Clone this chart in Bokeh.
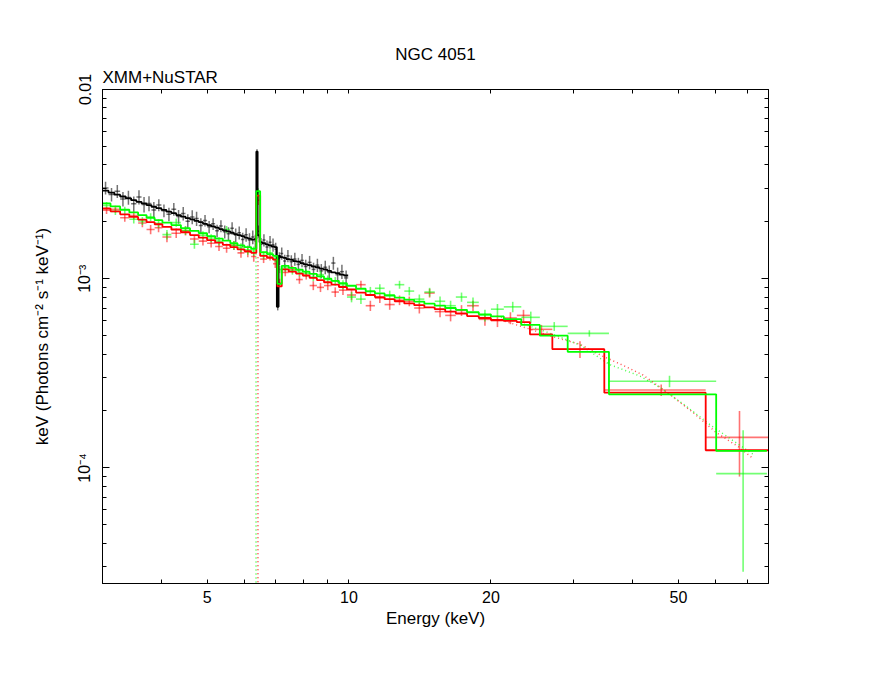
from math import pi, log10
from bokeh.plotting import figure
from bokeh.models import LogAxis, FixedTicker, Title, CustomJSTickFormatter, BasicTickFormatter
from bokeh.embed import file_html
from bokeh.resources import INLINE

FONT = "Liberation Sans"

# ---------------- data (flux values in units of 1e-3) ----------------
black_edges = [3.00, 3.09, 3.18, 3.27, 3.36, 3.45, 3.54, 3.63, 3.72, 3.81, 3.90, 4.00, 4.10, 4.20,
               4.30, 4.40, 4.50, 4.60, 4.70, 4.80, 4.90, 5.00, 5.10, 5.20, 5.30, 5.40, 5.50, 5.60,
               5.70, 5.80, 5.90, 6.00, 6.10, 6.20, 6.30, 6.36, 6.40, 6.46, 6.55, 6.65, 6.75, 6.85,
               6.95, 7.03, 7.09, 7.15, 7.25, 7.36, 7.48, 7.61, 7.74, 7.88, 8.02, 8.17, 8.33, 8.49,
               8.65, 8.82, 8.99, 9.17, 9.36, 9.56, 9.76, 9.96]
black_model = [2.92, 2.85, 2.78, 2.72, 2.66, 2.60, 2.55, 2.50, 2.45, 2.40,
               2.36, 2.31, 2.26, 2.22, 2.17, 2.13, 2.09, 2.06, 2.02, 1.99,
               1.95, 1.92, 1.89, 1.86, 1.83, 1.80, 1.78, 1.75, 1.72, 1.70,
               1.68, 1.65, 1.63, 1.61, 1.62, 4.70, 1.70, 1.56, 1.54, 1.52,
               1.50, 1.48, 1.47, 0.71, 1.32, 1.30, 1.29, 1.27, 1.26, 1.24,
               1.23, 1.21, 1.19, 1.18, 1.16, 1.15, 1.13, 1.12, 1.10, 1.08,
               1.07, 1.05, 1.04]
black_flux = [3.02, 2.79, 2.90, 2.64, 2.69, 2.49, 2.70, 2.47, 2.50, 2.31,
              2.45, 2.29, 2.19, 2.33, 2.13, 2.21, 2.01, 2.12, 2.08, 1.91,
              2.03, 1.88, 1.95, 1.79, 1.90, 1.77, 1.73, 1.85, 1.70, 1.75,
              1.61, 1.71, 1.60, 1.66, 1.58, 4.55, 1.78, 1.52, 1.60, 1.47,
              1.56, 1.51, 1.43, 0.75, 1.28, 1.36, 1.24, 1.32, 1.23, 1.27,
              1.19, 1.25, 1.16, 1.22, 1.12, 1.18, 1.10, 1.15, 1.08, 1.21,
              1.05, 1.09, 1.01]
black_err = [0.23, 0.23, 0.23, 0.23, 0.23, 0.23, 0.23, 0.23, 0.23, 0.23,
             0.18, 0.18, 0.18, 0.18, 0.18, 0.18, 0.18, 0.18, 0.18, 0.18,
             0.14, 0.14, 0.14, 0.14, 0.14, 0.14, 0.14, 0.14, 0.14, 0.14,
             0.14, 0.14, 0.14, 0.14, 0.13, 0.28, 0.13, 0.12, 0.12, 0.12,
             0.12, 0.12, 0.12, 0.07, 0.10, 0.10, 0.10, 0.10, 0.10, 0.10,
             0.10, 0.10, 0.10, 0.10, 0.095, 0.095, 0.095, 0.095, 0.095, 0.095,
             0.095, 0.095, 0.095]

red_edges = [3.00, 3.12, 3.27, 3.42, 3.57, 3.72, 3.87, 4.02, 4.20, 4.40, 4.60, 4.80, 5.00, 5.20,
             5.40, 5.60, 5.80, 6.00, 6.20, 6.36, 6.48, 6.70, 6.90, 7.05, 7.20, 7.45, 7.72, 7.98,
             8.25, 8.55, 8.85, 9.18, 9.52, 9.90, 10.35, 10.85, 11.35, 11.90, 12.50, 13.10, 13.75,
             14.45, 15.20, 16.00, 16.85, 17.80, 18.85, 20.00, 21.30, 22.70, 24.20, 27.00, 34.80,
             57.10, 77.60]
red_model = [2.35, 2.27, 2.19, 2.12, 2.05, 1.99, 1.94, 1.88, 1.82, 1.76,
             1.70, 1.65, 1.60, 1.55, 1.51, 1.47, 1.43, 1.40, 1.37, 2.75,
             1.32, 1.29, 1.26, 0.91, 1.12, 1.09, 1.065, 1.04, 1.01, 0.984,
             0.958, 0.931, 0.904, 0.877, 0.845, 0.82, 0.80, 0.78, 0.76, 0.74,
             0.725, 0.705, 0.69, 0.67, 0.655, 0.635, 0.62, 0.605, 0.598, 0.59,
             0.508, 0.424, 0.250, 0.124]
red_flux = [2.30, 2.33, 2.10, 2.16, 1.97, 1.82, 1.86, 1.66, 1.74, 1.79,
            1.62, 1.58, 1.54, 1.48, 1.45, 1.50, 1.37, 1.38, 1.31, 2.60,
            1.27, 1.31, 1.20, 0.95, 1.08, 1.12, 0.99, 1.04, 0.92, 0.90,
            0.92, 0.85, 0.87, 0.82, 0.93, 0.72, 0.79, 0.73, 0.77, 0.76,
            0.70, 0.84, 0.67, 0.64, 0.68, 0.72, 0.61, 0.60, 0.62, 0.64,
            0.54, 0.424, 0.258, 0.145]
red_err = [0.10, 0.10, 0.10, 0.10, 0.10, 0.10, 0.10, 0.10, 0.10, 0.10,
           0.08, 0.08, 0.08, 0.08, 0.08, 0.08, 0.08, 0.08, 0.08, 0.15,
           0.06, 0.06, 0.06, 0.05, 0.05, 0.05, 0.05, 0.05, 0.05, 0.05,
           0.05, 0.05, 0.05, 0.05, 0.045, 0.045, 0.045, 0.045, 0.045, 0.045,
           0.045, 0.045, 0.045, 0.045, 0.045, 0.045, 0.045, 0.045, 0.045, 0.045,
           0.03, 0.043, 0.018, 0.055]

green_edges = [3.00, 3.12, 3.27, 3.42, 3.57, 3.72, 3.87, 4.02, 4.20, 4.40, 4.60, 4.80, 5.00, 5.20,
               5.40, 5.60, 5.80, 6.00, 6.20, 6.36, 6.48, 6.70, 6.90, 7.05, 7.20, 7.45, 7.72, 7.98,
               8.25, 8.55, 8.85, 9.18, 9.52, 9.90, 10.35, 10.85, 11.35, 11.90, 12.50, 13.10, 13.75,
               14.45, 15.20, 16.00, 16.85, 17.80, 18.85, 20.00, 21.30, 23.20, 25.40, 29.10, 35.60,
               60.10, 77.00]
green_model = [2.50, 2.41, 2.32, 2.24, 2.17, 2.10, 2.04, 1.98, 1.92, 1.85,
               1.79, 1.74, 1.68, 1.63, 1.59, 1.54, 1.50, 1.47, 1.44, 2.90,
               1.38, 1.35, 1.32, 0.94, 1.17, 1.14, 1.115, 1.09, 1.06, 1.03,
               1.00, 0.975, 0.947, 0.918, 0.885, 0.858, 0.836, 0.815, 0.795, 0.775,
               0.757, 0.738, 0.72, 0.70, 0.685, 0.665, 0.648, 0.632, 0.612, 0.57,
               0.50, 0.411, 0.245, 0.123]
green_flux = [2.44, 2.27, 2.30, 2.06, 2.02, 2.12, 1.96, 1.71, 1.98, 1.80,
              1.52, 1.70, 1.64, 1.58, 1.82, 1.50, 1.46, 1.42, 1.40, 2.86,
              1.33, 1.37, 1.28, 1.12, 1.14, 1.10, 1.08, 1.07, 1.02, 1.05,
              0.99, 0.97, 0.93, 0.80, 0.78, 0.86, 0.89, 0.82, 0.93, 0.86,
              0.78, 0.85, 0.76, 0.72, 0.80, 0.75, 0.64, 0.69, 0.71, 0.625,
              0.56, 0.514, 0.287, 0.0933]
green_err = [0.10, 0.10, 0.10, 0.10, 0.10, 0.10, 0.10, 0.10, 0.10, 0.10,
             0.08, 0.08, 0.08, 0.08, 0.08, 0.08, 0.08, 0.08, 0.08, 0.15,
             0.06, 0.06, 0.06, 0.05, 0.05, 0.05, 0.05, 0.05, 0.05, 0.05,
             0.05, 0.05, 0.05, 0.05, 0.045, 0.045, 0.045, 0.045, 0.045, 0.045,
             0.045, 0.045, 0.045, 0.045, 0.045, 0.045, 0.045, 0.045, 0.045, 0.045,
             0.03, 0.02, 0.02, 0.065]

# continuum model components (dotted), flux in units of 1e-4
red_comp_e = [21.0, 24.0, 27.0, 30.9, 34.5, 38.0, 42.0, 47.9, 53.6, 60.1, 67.4, 72.0]
red_comp_f = [6.05, 5.45, 4.95, 4.50, 3.90, 3.50, 3.10, 2.45, 1.97, 1.54, 1.28, 1.12]
green_comp_e = [21.0, 24.0, 27.0, 31.0, 35.7, 41.4, 45.6, 51.9, 58.9, 66.2, 72.0]
green_comp_f = [6.25, 5.65, 5.10, 4.45, 3.52, 3.06, 2.67, 2.12, 1.66, 1.36, 1.18]
# narrow Gaussian line components (dotted): energy, level where it meets the continuum
gauss_e = {"red": 6.41, "green": 6.35}
gauss_top = {"red": 1.30e-3, "green": 1.36e-3}

x_tick_values = [5, 10, 20, 50]
x_minor_values = [3, 4, 6, 7, 8, 9, 30, 40, 60, 70]
y_tick_values = [1e-4, 1e-3, 1e-2]
y_tick_labels = ["10\u207b\u2074", "10\u207b\u00b3", "0.01"]
y_minor_values = [m * d for d in (1e-5, 1e-4, 1e-3) for m in range(2, 10)]

X0, X1 = 3.0, 77.6
Y0, Y1 = 2.45e-5, 1e-2

W, H = 864, 660
ML, MR, MT, MB = 102, 96, 89, 77

p = figure(width=W, height=H, x_axis_type="log", y_axis_type="log",
           x_range=(X0, X1), y_range=(Y0, Y1),
           min_border_left=ML, min_border_right=MR, min_border_top=MT, min_border_bottom=MB,
           output_backend="svg", toolbar_location=None, title=None)
p.grid.visible = False
p.outline_line_color = "black"
p.outline_line_width = 1
p.background_fill_color = "white"
p.border_fill_color = "white"


def style_axis(ax, labels=True):
    ax.axis_line_color = "black"
    ax.axis_line_width = 1
    ax.major_tick_in = 7
    ax.major_tick_out = 0
    ax.minor_tick_in = 4
    ax.minor_tick_out = 0
    ax.major_tick_line_color = "black"
    ax.minor_tick_line_color = "black"
    ax.major_label_text_font = FONT
    ax.major_label_text_font_size = "16px"
    ax.major_label_text_color = "black"
    ax.axis_label_text_font = FONT
    ax.axis_label_text_font_size = "17px"
    ax.axis_label_text_font_style = "normal"
    ax.axis_label_text_color = "black"
    if not labels:
        ax.major_label_text_font_size = "0px"
        ax.major_label_text_alpha = 0
        ax.major_label_standoff = 0


xt = FixedTicker(ticks=x_tick_values, minor_ticks=x_minor_values)
yt = FixedTicker(ticks=y_tick_values, minor_ticks=y_minor_values)
yfmt = CustomJSTickFormatter(args=dict(vals=y_tick_values, labs=y_tick_labels), code="""
for (let i = 0; i < vals.length; i++) {
  if (Math.abs(Math.log10(tick) - Math.log10(vals[i])) < 1e-6) return labs[i];
}
return '';
""")

xa = p.xaxis[0]
xa.ticker = xt
xa.formatter = BasicTickFormatter()
xa.axis_label = "Energy (keV)"
style_axis(xa)
xa.major_tick_in = 4
xa.minor_tick_in = 4
xa.major_label_standoff = 7
xa.axis_label_standoff = 3

ya = p.yaxis[0]
ya.ticker = yt
ya.formatter = yfmt
style_axis(ya)
ya.major_label_orientation = "vertical"
ya.major_label_standoff = 9
ya.axis_label = "keV (Photons cm\u207b\u00b2 s\u207b\u00b9 keV\u207b\u00b9)"
ya.axis_label_standoff = 22

top = LogAxis(ticker=FixedTicker(ticks=x_tick_values, minor_ticks=x_minor_values))
style_axis(top, labels=False)
top.major_tick_in = 4
top.minor_tick_in = 4
p.add_layout(top, "above")
right = LogAxis(ticker=FixedTicker(ticks=y_tick_values, minor_ticks=y_minor_values))
style_axis(right, labels=False)
p.add_layout(right, "right")

p.add_layout(Title(text="XMM+NuSTAR", align="left", text_font=FONT, text_font_size="17px",
                   text_font_style="normal", text_color="black", standoff=5), "above")
p.add_layout(Title(text="NGC 4051", align="center", text_font=FONT, text_font_size="17px",
                   text_font_style="normal", text_color="black", standoff=0), "above")


def crosses(edges, flux, err, scale, color, alpha, width):
    lo = edges[:-1]
    hi = edges[1:]
    cen = [(a + b) / 2 for a, b in zip(lo, hi)]
    f = [v * scale for v in flux]
    e = [v * scale for v in err]
    p.segment(x0=lo, y0=f, x1=hi, y1=f, line_color=color, line_alpha=alpha, line_width=width)
    p.segment(x0=cen, y0=[a - b for a, b in zip(f, e)], x1=cen, y1=[a + b for a, b in zip(f, e)],
              line_color=color, line_alpha=alpha, line_width=width)


def model_step(edges, model, scale, color, width):
    xs, ys = [], []
    for i, v in enumerate(model):
        xs += [edges[i], edges[i + 1]]
        ys += [v * scale, v * scale]
    p.line(xs, ys, line_color=color, line_width=width)


crosses(black_edges, black_flux, black_err, 1e-3, "#000000", 0.55, 1.5)
crosses(red_edges, red_flux, red_err, 1e-3, "#ff0000", 0.55, 1.6)
crosses(green_edges, green_flux, green_err, 1e-3, "#00ff00", 0.55, 1.6)

# dotted model components
p.line(red_comp_e, [v * 1e-4 for v in red_comp_f], line_color="#ff0000",
       line_dash="1 3", line_width=1.5, line_alpha=0.7)
p.line(green_comp_e, [v * 1e-4 for v in green_comp_f], line_color="#00ff00",
       line_dash="1 3", line_width=1.5, line_alpha=0.7)
for c, col in (("red", "#ff0000"), ("green", "#00ff00")):
    p.segment(x0=[gauss_e[c]], y0=[gauss_top[c]], x1=[gauss_e[c]], y1=[Y0 * 0.1],
              line_color=col, line_dash="1 3", line_width=1.5, line_alpha=0.8)

model_step(black_edges, black_model, 1e-3, "#000000", 1.8)
model_step(red_edges, red_model, 1e-3, "#ff0000", 1.8)
model_step(green_edges, green_model, 1e-3, "#00ff00", 1.8)

open("out.html", "w").write(file_html(p, INLINE))
